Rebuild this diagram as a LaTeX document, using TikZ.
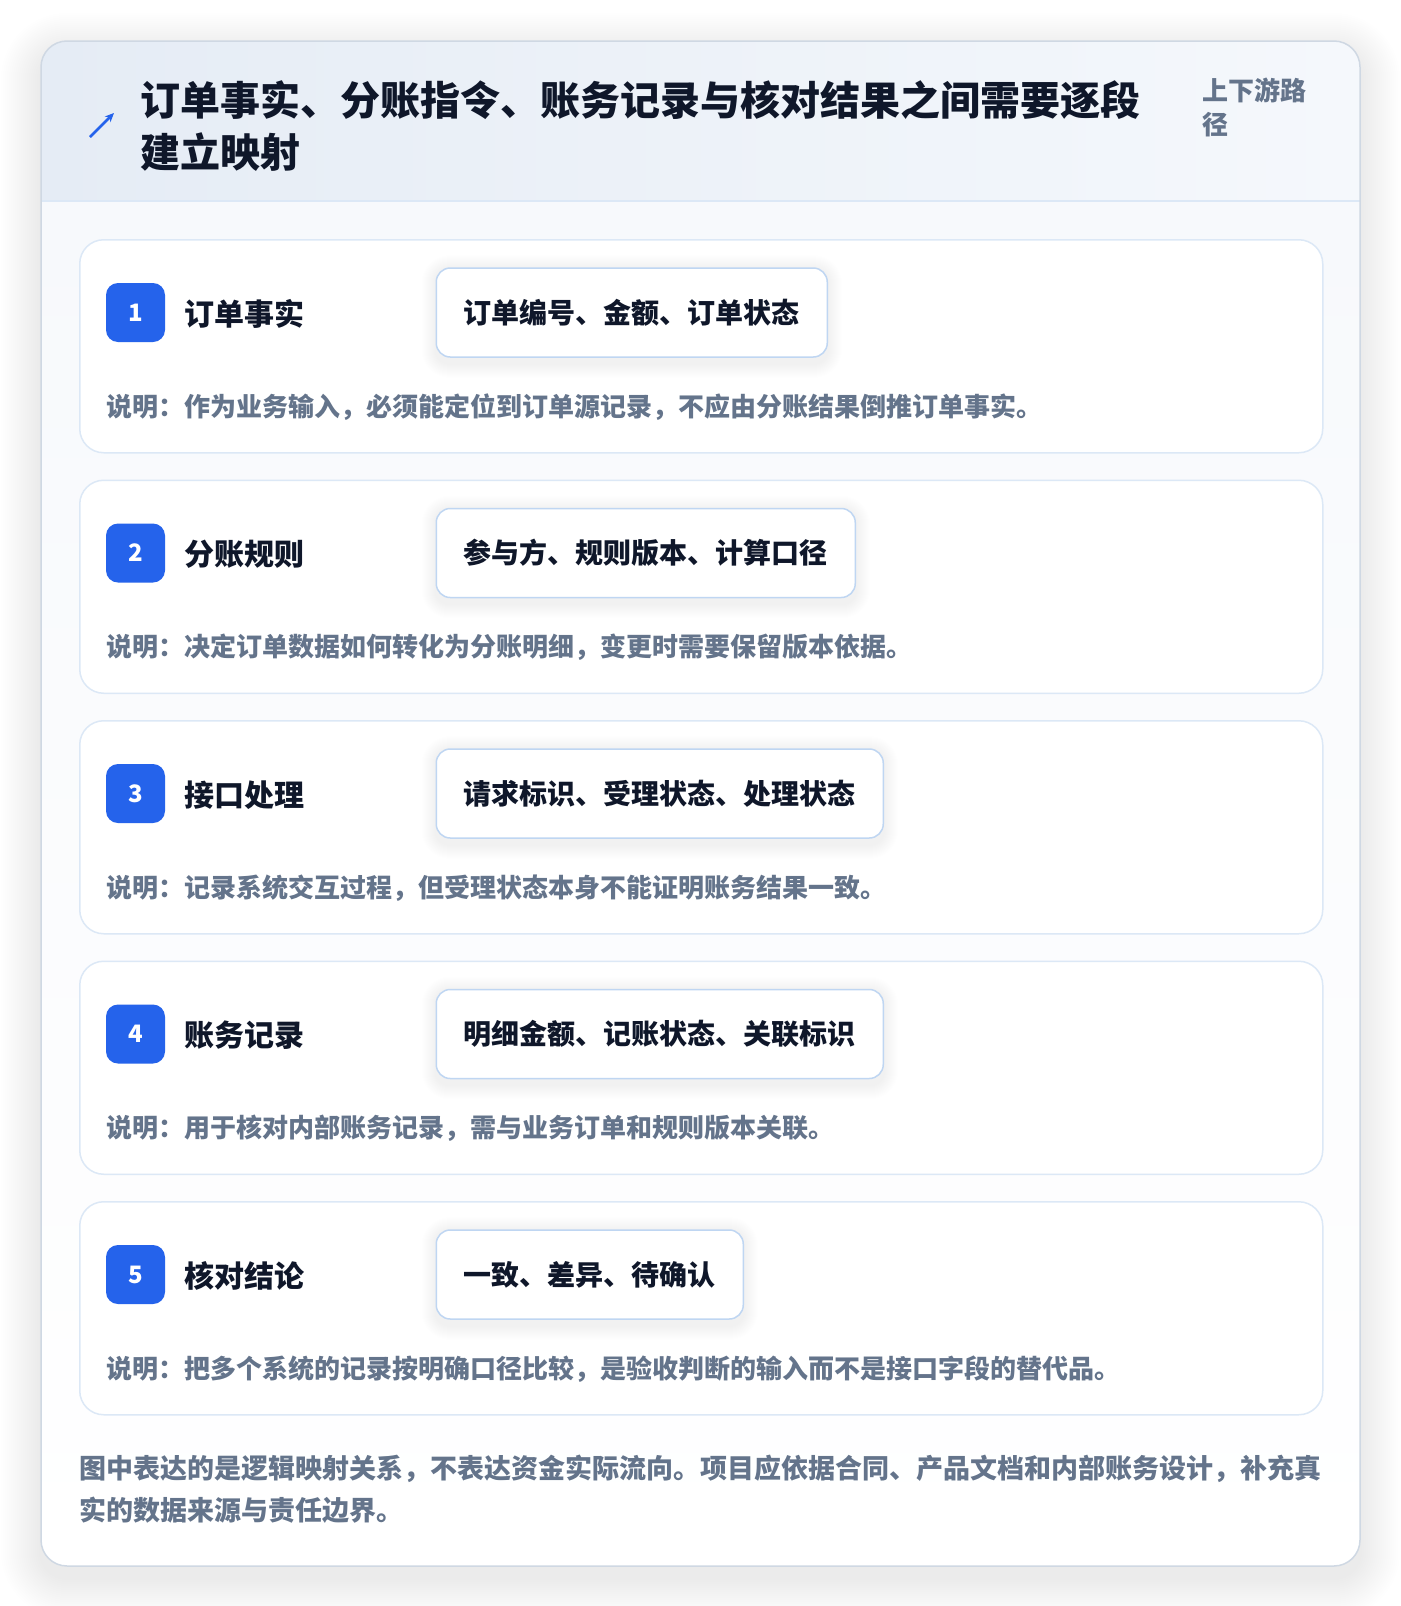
\documentclass[tikz,border=0pt]{standalone}
\usepackage{fontspec}
\setmainfont{Noto Sans CJK SC}
\usetikzlibrary{arrows.meta}
\pgfdeclarelayer{bottom}\pgfdeclarelayer{cardl}\pgfdeclarelayer{shad}
\pgfsetlayers{bottom,cardl,shad,main}
\definecolor{titlec}{HTML}{0F172A}
\definecolor{subc}{HTML}{64748B}
\definecolor{badge}{HTML}{2563EB}
\definecolor{cardb}{HTML}{DCE8F6}
\definecolor{fieldb}{HTML}{BFD6F2}
\definecolor{bodybg}{HTML}{F7F9FC}
\definecolor{hdl}{HTML}{E5ECF5}
\definecolor{hdr}{HTML}{F5F8FC}
\definecolor{outerb}{HTML}{CFD8E3}
\begin{document}
\begin{tikzpicture}[x=1pt,y=-1pt,
  lab/.style={font=\bfseries\fontsize{30}{36}\selectfont, text=titlec, anchor=west, inner sep=0pt},
  fieldbox/.style={draw=fieldb, line width=1.5pt, fill=white, rounded corners=14pt, minimum height=89pt, inner xsep=27.5pt, inner ysep=0pt, anchor=west, font=\bfseries\fontsize{28}{34}\selectfont, text=titlec},
  descr/.style={font=\bfseries\fontsize{26}{32}\selectfont, text=subc, anchor=west, inner sep=0pt},
  badgebox/.style={fill=badge, rounded corners=12pt, minimum size=59pt, inner sep=0pt, text=white, font=\bfseries\fontsize{24}{28}\selectfont},
  cardbox/.style={draw=cardb, line width=1.5pt, fill=white, rounded corners=24pt, inner sep=0pt, minimum width=1243pt, minimum height=213pt, anchor=north west},
]
\useasboundingbox (0,0) rectangle (1400,1606);
\begin{pgfonlayer}{bottom}
\fill[white] (0,0) rectangle (1400,1606);
\foreach \k in {2,4,...,40} \fill[black, opacity=0.004, rounded corners={26pt+\k pt}] (41-\k, 41-\k+12) rectangle (1360+\k, 1566+\k+12);
\begin{scope}
\clip[rounded corners=26pt] (41,41) rectangle (1360,1566);
\shade[left color=hdl, right color=hdr] (41,41) rectangle (1360,201);
\shade[top color=bodybg, bottom color=white] (41,201) rectangle (1360,1566);
\end{scope}
\draw[cardb, line width=2pt] (41,201) -- (1360,201);
\node[draw=outerb, line width=1.5pt, rounded corners=26pt, minimum width=1319pt, minimum height=1525pt, inner sep=0pt] (frame) at (700.5,803.5) {};
\end{pgfonlayer}

\coordinate (arrA) at (90,137);
\coordinate (arrB) at (114,113);
\draw[badge, line width=2.5pt, -{Stealth[length=9pt,width=8pt]}] (arrA) -- (arrB);

\node[font=\bfseries\fontsize{40}{52.5}\selectfont, text=titlec, align=left, anchor=west, inner sep=0pt] (title) at (140,126) {订单事实、分账指令、账务记录与核对结果之间需要逐段\\建立映射};
\node[font=\bfseries\fontsize{26}{34}\selectfont, text=subc, align=left, anchor=west, inner sep=0pt] (sub) at (1202,107) {上下游路\\径};

\foreach \i/\lab/\fld/\dsc in {
 1/订单事实/订单编号、金额、订单状态/说明：作为业务输入，必须能定位到订单源记录，不应由分账结果倒推订单事实。,
 2/分账规则/参与方、规则版本、计算口径/说明：决定订单数据如何转化为分账明细，变更时需要保留版本依据。,
 3/接口处理/请求标识、受理状态、处理状态/说明：记录系统交互过程，但受理状态本身不能证明账务结果一致。,
 4/账务记录/明细金额、记账状态、关联标识/说明：用于核对内部账务记录，需与业务订单和规则版本关联。,
 5/核对结论/一致、差异、待确认/说明：把多个系统的记录按明确口径比较，是验收判断的输入而不是接口字段的替代品。}
{
 \pgfmathsetmacro\t{239+240.5*(\i-1)}
 \begin{pgfonlayer}{cardl}
 \node[cardbox] (card\i) at (79,\t) {};
 \end{pgfonlayer}
 \node[badgebox] (badge\i) at (135.5,\t+73.5) {\i};
 \node[lab] (label\i) at (184.5,\t+75) {\lab};
 \node[fieldbox] (field\i) at (435.5,\t+73.5) {\fld};
 \begin{pgfonlayer}{shad}
 \foreach \k in {1,...,14} \fill[black, opacity=0.0045, rounded corners={14pt+\k pt}] ([xshift=-\k pt, yshift={\k pt-2pt}]field\i.north west) rectangle ([xshift=\k pt, yshift={-\k pt-6pt}]field\i.south east);
 \end{pgfonlayer}
 \node[descr] (desc\i) at (106.5,\t+168) {\dsc};
}

\node[font=\bfseries\fontsize{27}{42}\selectfont, text=subc, align=left, anchor=west, inner sep=0pt] (foot) at (79,1489) {图中表达的是逻辑映射关系，不表达资金实际流向。项目应依据合同、产品文档和内部账务设计，补充真\\实的数据来源与责任边界。};
\end{tikzpicture}
\end{document}
